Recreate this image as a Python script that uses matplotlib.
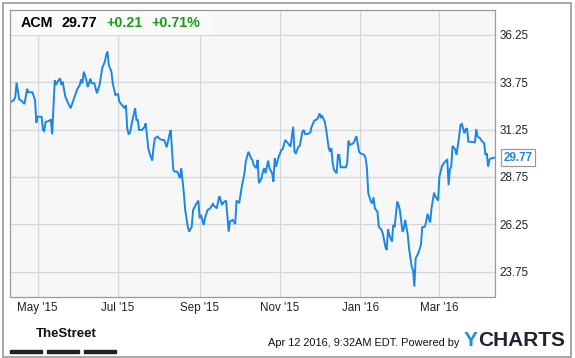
import numpy as np
import matplotlib
matplotlib.use("Agg")
import matplotlib.pyplot as plt
import matplotlib.dates as mdates
from matplotlib.patches import Rectangle

plt.rcParams['font.family'] = ['Liberation Sans', 'DejaVu Sans']

# ACM daily closes (days counted from start_date)
start_date = np.datetime64('2015-04-10')
days = [0, 3, 4, 5, 7, 9, 11, 13, 14, 17, 19, 20, 21, 24, 25, 26, 27, 30, 31, 32,
        33, 34, 35, 36, 38, 39, 40, 42, 44, 46, 49, 51, 53, 54, 55, 56, 58, 59,
        61, 62, 64, 66, 68, 70, 72, 73, 74, 75, 77, 78, 80, 82, 83, 85, 87, 88,
        89, 90, 91, 93, 95, 96, 97, 98, 100, 102, 103, 105, 106, 108, 109, 110,
        112, 114, 116, 117, 118, 119, 121, 122, 124, 125, 127, 129, 130, 132,
        133, 135, 136, 138, 139, 141, 143, 144, 145, 147, 148, 150, 152, 154,
        155, 157, 158, 159, 161, 162, 164, 165, 166, 167, 169, 171, 172, 174,
        176, 178, 179, 181, 183, 184, 185, 187, 188, 189, 191, 192, 193, 194,
        196, 197, 199, 200, 201, 202, 204, 206, 207, 209, 211, 213, 215, 216,
        217, 219, 220, 222, 223, 224, 226, 228, 229, 231, 233, 234, 235, 236,
        237, 239, 240, 242, 243, 244, 245, 246, 248, 249, 250, 251, 255, 256,
        257, 258, 260, 261, 263, 265, 266, 269, 270, 271, 272, 274, 275, 276,
        277, 279, 280, 282, 283, 285, 286, 287, 288, 290, 291, 292, 294, 295,
        296, 298, 299, 300, 302, 303, 305, 306, 307, 308, 310, 312, 313, 315,
        316, 317, 319, 320, 322, 323, 325, 326, 328, 329, 331, 332, 333, 334,
        335, 336, 338, 339, 341, 342, 343, 344, 345, 346, 347, 348, 353, 354,
        355, 357, 358, 360, 361, 362, 363, 364, 365, 368]
prices = [32.67, 32.82, 32.96, 33.73, 32.85, 32.76, 32.60, 33.41, 33.22, 33.22,
          32.82, 31.62, 31.93, 31.93, 31.23, 31.18, 31.65, 31.72, 31.79, 31.00,
          32.46, 33.87, 33.61, 33.77, 33.96, 33.61, 33.78, 32.99, 32.67, 32.38,
          32.99, 33.38, 33.61, 33.91, 33.70, 34.31, 33.87, 33.50,
          33.94, 33.70, 33.70, 33.17, 33.61, 34.49, 34.84, 35.19, 35.37, 34.66,
          34.31, 33.70, 33.08, 33.13, 32.73, 32.55, 32.38, 32.55,
          31.32, 31.02, 31.06, 31.76, 32.38, 31.76, 31.76, 31.23, 31.23, 31.37,
          31.58, 30.26, 30.00, 29.61, 30.35, 30.79,
          30.88, 30.74, 30.70, 30.70, 30.53, 30.32, 30.96, 31.23, 29.12, 29.03,
          29.03, 28.68, 29.21, 27.89,
          27.00, 26.12, 25.86, 26.12, 27.00, 27.27, 27.50, 26.57, 26.74, 26.21,
          26.57, 27.00, 27.09, 27.32,
          27.21, 27.09, 27.44, 27.74, 27.27, 27.39, 27.50, 26.74, 25.86, 26.39,
          26.48, 26.26, 27.50, 27.36,
          28.24, 28.94, 29.56, 30.08, 29.74, 29.65, 29.38, 29.21, 29.65, 28.42,
          28.68, 29.03, 29.21, 28.94,
          29.61, 29.21, 28.94, 28.50, 29.74, 29.29, 29.82, 30.17, 30.21, 30.70,
          30.53, 30.35, 31.40, 30.08,
          30.00, 30.35, 30.39, 31.14, 31.23, 31.02, 31.02, 31.09, 31.40, 31.72,
          31.79, 31.90, 32.11, 31.90,
          31.97, 31.67, 31.27, 30.26, 30.08, 30.26, 29.47, 29.12, 28.94, 29.91,
          29.91, 29.26, 29.26, 29.47,
          30.66, 30.44, 30.50, 30.56, 30.91, 30.08, 30.00, 29.91, 29.74, 29.21,
          27.89, 27.44, 27.35, 27.67,
          27.09, 26.91, 26.12, 25.95, 25.77, 25.07, 24.89, 25.98, 25.68, 25.33,
          26.21, 26.09, 27.44, 27.27,
          27.00, 25.86, 26.00, 26.48, 25.70, 24.95, 24.01, 23.83, 22.96, 24.45,
          24.72, 25.16, 26.09, 26.12,
          26.39, 26.80, 26.34, 27.09, 27.92, 27.71, 27.50, 28.76, 29.33, 29.44,
          29.61, 29.65, 28.32, 29.15,
          29.29, 30.39, 30.21, 29.91, 30.88, 31.49, 31.55, 31.32, 31.06, 31.27,
          31.32, 30.61, 30.58, 31.27,
          30.88, 30.79, 30.66, 30.53, 29.91, 30.00, 29.29, 29.65, 29.72, 29.77]

ticker = "ACM"
change = "+0.21"
change_pct = "+0.71%"
y_ticks = [23.75, 26.25, 28.75, 31.25, 33.75, 36.25]

dates = start_date + np.array(days).astype('timedelta64[D]')

W, H = 575, 358
fig = plt.figure(figsize=(W / 100, H / 100), dpi=100)
fig.patch.set_facecolor('white')

ax = fig.add_axes([10 / W, 1 - 296.5 / H, 484.7 / W, 286.5 / H])
ax.set_facecolor('#f7f7f7')

line_color = '#1a87e6'
ax.plot(dates, prices, color=line_color, lw=1.4, solid_joinstyle='miter')

ax.set_xlim(dates[0], dates[-1])
ax.set_ylim(22.43, 37.57)

ax.xaxis.set_major_locator(mdates.MonthLocator(bymonth=[1, 3, 5, 7, 9, 11]))
ax.xaxis.set_major_formatter(mdates.DateFormatter("%b '%y"))
ax.set_yticks(y_ticks)
ax.yaxis.set_major_formatter(matplotlib.ticker.FormatStrFormatter('%.2f'))
ax.yaxis.tick_right()
ax.tick_params(axis='both', length=0, labelsize=8.4, labelcolor='#222222')
ax.tick_params(axis='x', pad=4)
ax.tick_params(axis='y', pad=3.5)
ax.grid(True, color='#d6d6d6', lw=0.9)
ax.set_axisbelow(True)
for sp in ax.spines.values():
    sp.set_color('#999999')
    sp.set_linewidth(0.9)

# header box with quote
ax.add_patch(Rectangle((0, 1 - 24.5 / 286.5), 201 / 484.7, 24.5 / 286.5,
                       transform=ax.transAxes, facecolor='#fafafa',
                       edgecolor='none', zorder=2.5))
hy = 1 - 13.3 / 286.5
hdr = dict(transform=ax.transAxes, fontsize=10.3, fontweight='bold',
           va='center', zorder=3)
ax.text(10.5 / 484.7, hy, ticker, color='black', **hdr)
ax.text(51.7 / 484.7, hy, f"{prices[-1]:.2f}", color='black', **hdr)
ax.text(96 / 484.7, hy, change, color='#1e9a1e', **hdr)
ax.text(141 / 484.7, hy, change_pct, color='#1e9a1e', **hdr)

# last price tag
ax.annotate(f"{prices[-1]:.2f}", xy=(dates[-1], prices[-1]),
            xytext=(6.5, 0), textcoords='offset points',
            ha='left', va='center', fontsize=8.4, fontweight='bold',
            color=line_color, annotation_clip=False,
            bbox=dict(boxstyle='square,pad=0.2', fc='white', ec='#999999', lw=0.9))

# footer
fig.text(36 / W, 1 - 334 / H, "TheStreet", fontsize=9.5, fontweight='bold',
         color='#111111', va='center', ha='left')
for x0 in (10, 47, 84):
    fig.patches.append(Rectangle((x0 / W, 1 - 353 / H), 32 / W, 3.5 / H,
                                 transform=fig.transFigure, color='#222222'))
fig.text(459.5 / W, 1 - 343 / H, "Apr 12 2016, 9:32AM EDT. Powered by",
         fontsize=7.9, color='#111111', ha='right', va='center')
fig.text(464 / W, 1 - 341 / H, "Y", fontsize=15, fontweight='bold',
         color='#1a8fe3', ha='left', va='center')
fig.text(478 / W, 1 - 341 / H, "CHARTS", fontsize=15, fontweight='bold',
         color='#222233', ha='left', va='center')

# outer frame
fig.patches.append(Rectangle((2.5 / W, 1.5 / H), 568 / W, 354 / H,
                             transform=fig.transFigure, fill=False,
                             ec='#999999', lw=1.2))

fig.savefig('out.png', dpi=100)
